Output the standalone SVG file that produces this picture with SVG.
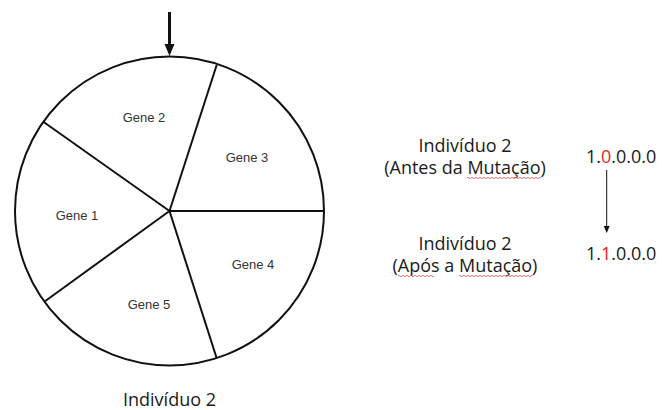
<svg xmlns="http://www.w3.org/2000/svg" width="662" height="410" viewBox="0 0 662 410">
<style>
.seg{stroke:#111;stroke-width:2;fill:none}
.gene{font-family:"Liberation Sans",Arial,sans-serif;font-size:13px;fill:#333;text-anchor:middle}
.lbl{font-family:"Open Sans","Noto Sans",sans-serif;font-size:18px;fill:#1a1a1a;text-anchor:middle}
.num{font-family:"Open Sans","Noto Sans",sans-serif;font-size:18px;fill:#1a1a1a}
.red{fill:#e8231f}
.sq{stroke:#e05050;stroke-width:0.8;fill:none}
</style>
<defs>
<marker id="ah" markerWidth="10" markerHeight="12" refX="5" refY="11" orient="auto-start-reverse" markerUnits="userSpaceOnUse" viewBox="0 0 10 12">
<path d="M0,0 L10,0 L5,12 Z" fill="#111"/>
</marker>
<marker id="ah2" markerWidth="6" markerHeight="7" refX="3" refY="7" markerUnits="userSpaceOnUse" viewBox="0 0 6 7">
<path d="M0,0 L6,0 L3,7 Z" fill="#111"/>
</marker>
</defs>
<rect width="662" height="410" fill="#fff"/>
<g id="wheel">
<circle cx="169.5" cy="211" r="154.5" class="seg"/>
</g>
<g id="connectors">
<line x1="169.5" y1="211" x2="216.7" y2="65" class="seg"/>
<line x1="169.5" y1="211" x2="43.3" y2="121.7" class="seg"/>
<line x1="169.5" y1="211" x2="324" y2="211" class="seg"/>
<line x1="169.5" y1="211" x2="216.7" y2="358.3" class="seg"/>
<line x1="169.5" y1="211" x2="44.3" y2="301.7" class="seg"/>
<line x1="169.5" y1="12" x2="169.5" y2="45" stroke="#111" stroke-width="3"/>
<path d="M164.5,44 L174.5,44 L169.5,56 Z" fill="#111"/>
<line x1="606.7" y1="170" x2="606.7" y2="226" stroke="#111" stroke-width="1"/>
<path d="M603.7,226 L609.7,226 L606.7,233 Z" fill="#111"/>
</g>
<g id="gene1"><text x="77" y="220" class="gene">Gene 1</text></g>
<g id="gene2"><text x="144" y="121.5" class="gene">Gene 2</text></g>
<g id="gene3"><text x="247" y="161.5" class="gene">Gene 3</text></g>
<g id="gene4"><text x="253" y="268.5" class="gene">Gene 4</text></g>
<g id="gene5"><text x="149" y="308.5" class="gene">Gene 5</text></g>
<g id="title"><text x="169.5" y="406" class="lbl">Indivíduo 2</text></g>
<g id="before">
<text x="465" y="152" class="lbl">Indivíduo 2</text>
<text x="465" y="174" class="lbl">(Antes da Mutação)</text>
<path class="sq" d="M467,178 q1,-1.5 2,0 t2,0 t2,0 t2,0 t2,0 t2,0 t2,0 t2,0 t2,0 t2,0 t2,0 t2,0 t2,0 t2,0 t2,0 t2,0 t2,0 t2,0 t2,0 t2,0 t2,0 t2,0 t2,0 t2,0 t2,0 t2,0 t2,0 t2,0 t2,0 t2,0 t2,0 t2,0 t2,0 t2,0 t2,0 t2,0 t2,0"/>
</g>
<g id="after">
<text x="465" y="250" class="lbl">Indivíduo 2</text>
<text x="465" y="272" class="lbl">(Após a Mutação)</text>
<path class="sq" d="M398,276 q1,-1.5 2,0 t2,0 t2,0 t2,0 t2,0 t2,0 t2,0 t2,0 t2,0 t2,0 t2,0 t2,0 t2,0 t2,0 t2,0 t2,0 t2,0 t2,0"/>
<path class="sq" d="M459,276 q1,-1.5 2,0 t2,0 t2,0 t2,0 t2,0 t2,0 t2,0 t2,0 t2,0 t2,0 t2,0 t2,0 t2,0 t2,0 t2,0 t2,0 t2,0 t2,0 t2,0 t2,0 t2,0 t2,0 t2,0 t2,0 t2,0 t2,0 t2,0 t2,0 t2,0 t2,0 t2,0 t2,0 t2,0 t2,0 t2,0 t2,0 t2,0"/>
</g>
<g id="chrom-before"><text x="586" y="163" class="num">1.<tspan class="red">0</tspan>.0.0.0</text></g>
<g id="chrom-after"><text x="586" y="260" class="num">1.<tspan class="red">1</tspan>.0.0.0</text></g>
</svg>
